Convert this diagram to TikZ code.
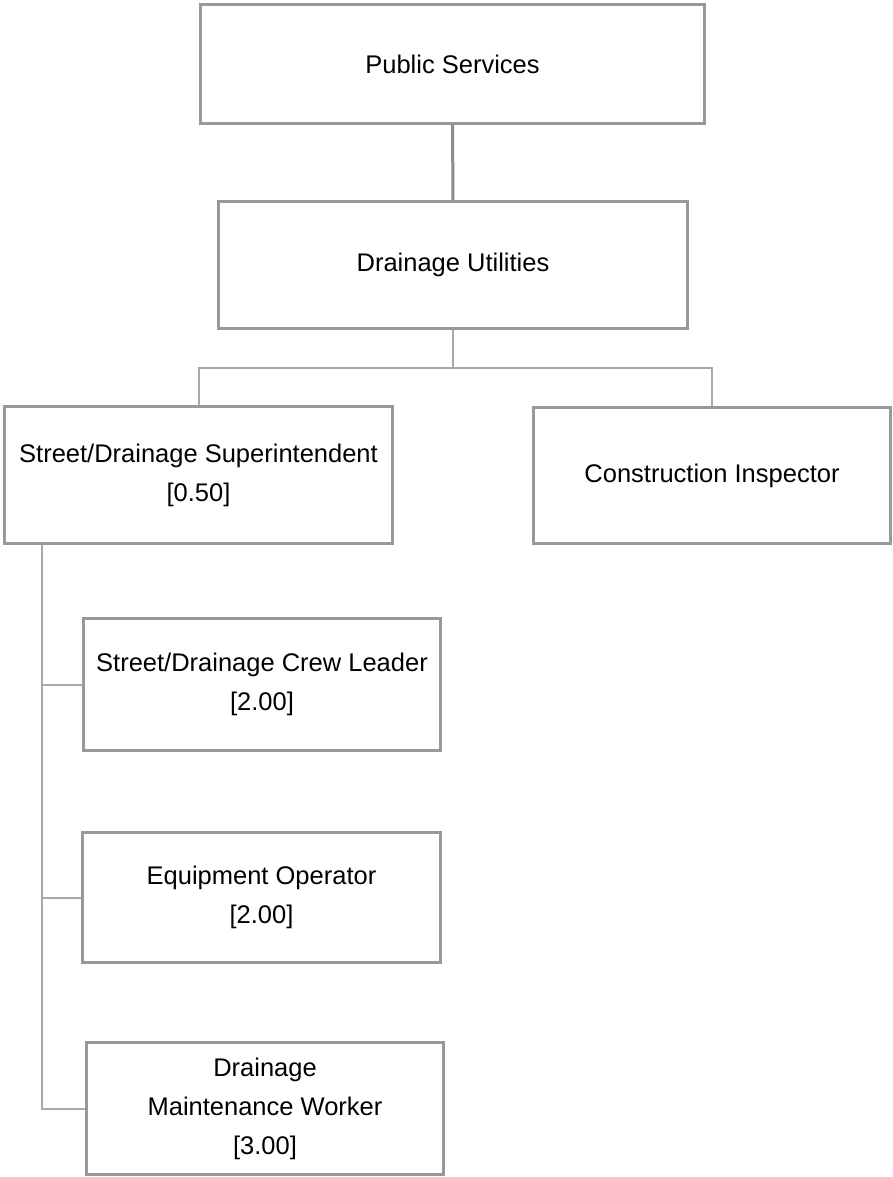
\documentclass[tikz,border=0pt]{standalone}
\usepackage{fontspec}
\setmainfont{Liberation Sans}
\definecolor{boxgray}{HTML}{999999}
\definecolor{stemgray}{HTML}{8C8C8C}
\definecolor{linkgray}{HTML}{A8A8A8}
\begin{document}
\begin{tikzpicture}[x=1pt,y=-1pt,
    every node/.style={font=\fontsize{25.5}{39}\selectfont,align=center},
    post/.style={draw=boxgray,line width=3pt,rectangle,inner sep=0pt},
    link/.style={linkgray,line width=2pt},
    stem/.style={stemgray,line width=3pt}]
    \useasboundingbox (0,0) rectangle (893,1177);
    \node[post,minimum width=504,minimum height=119] (public) at (452.5,64) {Public Services};
    \node[post,minimum width=469,minimum height=127] (drainage) at (453,265) {Drainage Utilities};
    \node[post,minimum width=388,minimum height=137] (super) at (198.5,475)
        {Street/Drainage Superintendent\\{}[0.50]};
    \node[post,minimum width=357,minimum height=136] (inspector) at (712,475.5)
        {Construction Inspector};
    \node[post,minimum width=357,minimum height=132] (crew) at (262,684.5)
        {Street/Drainage Crew Leader\\{}[2.00]};
    \node[post,minimum width=358,minimum height=130] (operator) at (261.5,897.5)
        {Equipment Operator\\{}[2.00]};
    \node[post,minimum width=357,minimum height=132] (worker) at (265,1108.5)
        {Drainage\\Maintenance Worker\\{}[3.00]};
    \coordinate (bus) at (453,368);
    \coordinate (spine) at (42,545);
    \draw[stem] (public) -- (drainage);
    \draw[link] (drainage) -- (bus);
    \draw[link] (super.north) |- (bus) -| (inspector.north);
    \draw[link] (spine) |- (worker.west);
    \draw[link] (spine |- crew.west) -- (crew.west);
    \draw[link] (spine |- operator.west) -- (operator.west);
\end{tikzpicture}
\end{document}
